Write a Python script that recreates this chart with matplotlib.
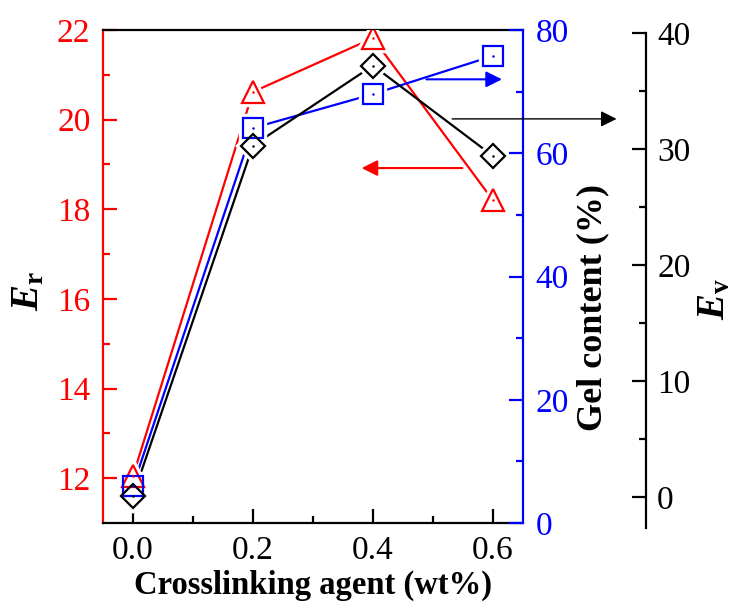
import matplotlib
matplotlib.use('Agg')
from matplotlib import pyplot as plt

# data
agent = [0.0, 0.2, 0.4, 0.6]
er = [12.05, 20.62, 21.82, 18.2]
gel = [6.0, 64.1, 69.6, 75.8]
ev = [0.1, 30.3, 37.2, 29.4]

plt.rcParams['font.family'] = ['Liberation Serif', 'DejaVu Serif']
plt.rcParams['mathtext.fontset'] = 'custom'
plt.rcParams['mathtext.rm'] = 'Liberation Serif'
plt.rcParams['mathtext.it'] = 'Liberation Serif:italic'
plt.rcParams['mathtext.bf'] = 'Liberation Serif:bold'
plt.rcParams['mathtext.bfit'] = 'Liberation Serif:bold:italic'

RED = '#ff0000'
BLUE = '#0000ff'
BLACK = '#000000'
FS = 24

fig = plt.figure(figsize=(7.34, 6.13), dpi=100)
ax = fig.add_axes([0.1403, 0.1468, 0.5722, 0.8042])
ax2 = ax.twinx()
ax3 = ax.twinx()

ax.set_xlim(-0.05, 0.65)
ax.set_ylim(11, 22)
ax2.set_ylim(0, 80)
ax3.set_ylim(-2.24, 40.26)

# all marks go on ax, each with the transform of its own y scale,
# so the white halos sit below every marker
series = [
    (er, ax.transData, RED, '^', 16),
    (gel, ax2.transData, BLUE, 's', 14),
    (ev, ax3.transData, BLACK, 'D', 12),
]
for y, tr, color, marker, ms in series:
    ax.plot(agent, y, color=color, lw=1.6, transform=tr, zorder=3)
for y, tr, color, marker, ms in series:
    ax.plot(agent, y, ls='none', marker=marker, ms=ms, mfc='white',
            mec='white', mew=6, transform=tr, zorder=4)
for y, tr, color, marker, ms in series:
    ax.plot(agent, y, ls='none', marker=marker, ms=ms, mfc='none', mec=color,
            mew=1.6, transform=tr, zorder=5)
    ax.plot(agent, y, ls='none', marker='o', ms=1.8, mfc=color, mec=color,
            mew=0, transform=tr, zorder=6)

ax.set_xticks([0.0, 0.2, 0.4, 0.6])
ax.set_xticks([0.1, 0.3, 0.5], minor=True)
ax.set_xticklabels(['0.0', '0.2', '0.4', '0.6'])
ax.set_yticks([12, 14, 16, 18, 20, 22])
ax.set_yticks([13, 15, 17, 19, 21], minor=True)
ax2.set_yticks([0, 20, 40, 60, 80])
ax2.set_yticks([10, 30, 50, 70], minor=True)
ax3.set_yticks([0, 10, 20, 30, 40])
ax3.set_yticks([5, 15, 25, 35], minor=True)

for a in (ax, ax2, ax3):
    for s in a.spines.values():
        s.set_linewidth(1.6)

ax.spines['left'].set_color(RED)
ax.spines['right'].set_visible(False)
ax2.spines['left'].set_visible(False)
ax2.spines['top'].set_visible(False)
ax2.spines['bottom'].set_visible(False)
ax2.spines['right'].set_color(BLUE)
for k in ('left', 'top', 'bottom'):
    ax3.spines[k].set_visible(False)
ax3.spines['right'].set_position(('axes', 1.293))
ax3.spines['right'].set_bounds(-2.7, 40)

ax.tick_params(axis='x', which='both', direction='in', colors=BLACK,
               labelsize=FS, width=1.6, pad=9)
ax.tick_params(axis='x', which='major', length=10)
ax.tick_params(axis='x', which='minor', length=5)
ax.tick_params(axis='y', which='both', direction='in', colors=RED,
               labelsize=FS, width=1.6, pad=9)
ax.tick_params(axis='y', which='major', length=10)
ax.tick_params(axis='y', which='minor', length=5)
ax2.tick_params(axis='y', which='both', direction='in', colors=BLUE,
                labelsize=FS, width=1.6, pad=9)
ax2.tick_params(axis='y', which='major', length=10)
ax2.tick_params(axis='y', which='minor', length=5)
ax3.tick_params(axis='y', which='both', direction='in', colors=BLACK,
                labelsize=FS, width=1.6, pad=8)
ax3.tick_params(axis='y', which='major', length=10)
ax3.tick_params(axis='y', which='minor', length=5)

ax.set_xlabel('Crosslinking agent (wt%)', fontsize=23.5, fontweight='bold',
              labelpad=3)
ax.set_ylabel(r'$\mathbfit{E}_{\mathbf{r}}$', fontsize=28)
ax.yaxis.set_label_coords(-0.132, 0.47)
ax2.set_ylabel('Gel content (%)', fontsize=26, fontweight='bold')
ax2.yaxis.set_label_coords(1.128, 0.438)
ax3.set_ylabel(r'$\mathbfit{E}_{\mathbf{v}}$', fontsize=28)
ax3.yaxis.set_label_coords(1.412, 0.455)

# direction arrows
ax.annotate('', xy=(0.381, 18.92), xytext=(0.549, 18.92),
            arrowprops=dict(arrowstyle='-|>', color=RED, lw=1.5,
                            mutation_scale=24, shrinkA=0, shrinkB=0))
ax2.annotate('', xy=(0.615, 72.0), xytext=(0.489, 72.0),
             arrowprops=dict(arrowstyle='-|>', color=BLUE, lw=1.5,
                             mutation_scale=24, shrinkA=0, shrinkB=0))
ax3.annotate('', xy=(0.806, 32.6), xytext=(0.532, 32.6),
             annotation_clip=False,
             arrowprops=dict(arrowstyle='-|>', color=BLACK, lw=1.0,
                             mutation_scale=24, shrinkA=0, shrinkB=0))

fig.savefig('out.png', dpi=100)
